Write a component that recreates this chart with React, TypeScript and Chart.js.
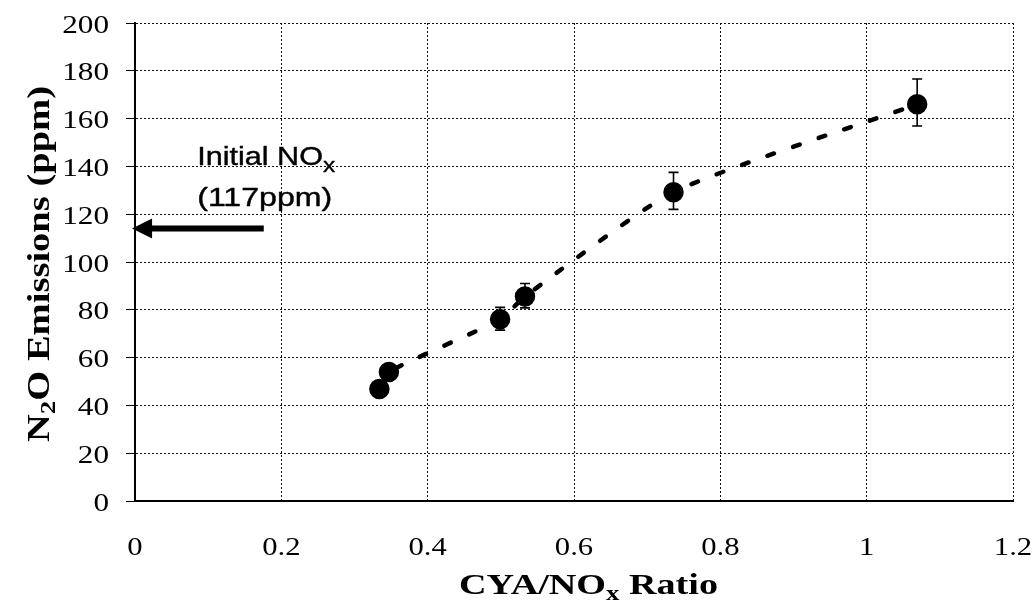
import React, { useEffect, useRef } from 'react';
import { Chart, registerables } from 'chart.js';

Chart.register(...registerables);

// ---- data ----
const X_VALUES = [0.334, 0.347, 0.499, 0.533, 0.736, 1.069];
const Y_VALUES = [46.9, 54.0, 76.0, 85.6, 129.2, 166.0];
const ERR_LOW = [45.0, 52.0, 71.5, 80.8, 122.0, 156.9];
const ERR_HIGH = [49.0, 56.0, 81.0, 91.0, 137.5, 176.6];

const X_TICKS = [0, 0.2, 0.4, 0.6, 0.8, 1, 1.2];
const X_TICK_LABELS = ['0', '0.2', '0.4', '0.6', '0.8', '1', '1.2'];
const Y_TICKS = [0, 20, 40, 60, 80, 100, 120, 140, 160, 180, 200];
const Y_TICK_LABELS = ['0', '20', '40', '60', '80', '100', '120', '140', '160', '180', '200'];

const X_TITLE = [{ t: 'CYA/NO' }, { t: 'x', sub: true }, { t: ' Ratio' }];
const Y_TITLE = [{ t: 'N' }, { t: '2', sub: true }, { t: 'O Emissions (ppm)' }];
const NOTE_LINE1 = [{ t: 'Initial NO' }, { t: 'x', sub: true }];
const NOTE_LINE2 = [{ t: '(117ppm)' }];

// annotation anchor values (data coordinates)
const NOTE_X = 0.085;
const NOTE_Y1 = 140.6;
const NOTE_Y2 = 123.4;
const ARROW_Y = 114;
const ARROW_FROM_X = 0.176;
const ARROW_TO_X = -0.004;

type Part = { t: string; sub?: boolean };
type RichOpts = {
  size: number;
  family: string;
  weight?: string;
  sx?: number;
  width?: number;
  align?: 'left' | 'center' | 'right';
  rotate?: boolean;
  subScale?: number;
  subDrop?: number;
  stroke?: number;
};

function drawRich(ctx: CanvasRenderingContext2D, parts: Part[], x: number, y: number, o: RichOpts) {
  const w = o.weight || 'normal';
  const subSize = o.size * (o.subScale ?? 0.65);
  const fontFor = (p: Part) => `${w} ${p.sub ? subSize : o.size}px ${o.family}`;
  let natural = 0;
  const widths = parts.map((p) => {
    ctx.font = fontFor(p);
    const m = ctx.measureText(p.t).width;
    natural += m;
    return m;
  });
  const sx = o.width ? o.width / natural : o.sx ?? 1;
  ctx.save();
  ctx.translate(x, y);
  if (o.rotate) ctx.rotate(-Math.PI / 2);
  ctx.scale(sx, 1);
  let cx = o.align === 'center' ? -natural / 2 : o.align === 'right' ? -natural : 0;
  ctx.textBaseline = 'alphabetic';
  ctx.textAlign = 'left';
  ctx.fillStyle = '#000';
  ctx.strokeStyle = '#000';
  ctx.lineJoin = 'round';
  parts.forEach((p, i) => {
    ctx.font = fontFor(p);
    const yy = p.sub ? o.size * (o.subDrop ?? 0.22) : 0;
    ctx.fillText(p.t, cx, yy);
    if (o.stroke) {
      ctx.lineWidth = o.stroke;
      ctx.strokeText(p.t, cx, yy);
    }
    cx += widths[i];
  });
  ctx.restore();
}

const errorBarPlugin = {
  id: 'errorBars',
  afterDatasetsDraw(chart: any) {
    const { ctx, scales } = chart;
    const xs = scales.x;
    const ys = scales.y;
    ctx.save();
    ctx.strokeStyle = '#000';
    ctx.lineWidth = 1.6;
    X_VALUES.forEach((xv, i) => {
      const px = xs.getPixelForValue(xv);
      const lo = ys.getPixelForValue(ERR_LOW[i]);
      const hi = ys.getPixelForValue(ERR_HIGH[i]);
      const cap = 5;
      ctx.beginPath();
      ctx.moveTo(px, lo);
      ctx.lineTo(px, hi);
      ctx.moveTo(px - cap, lo);
      ctx.lineTo(px + cap, lo);
      ctx.moveTo(px - cap, hi);
      ctx.lineTo(px + cap, hi);
      ctx.stroke();
    });
    ctx.restore();
  },
};

const textPlugin = {
  id: 'texts',
  afterDraw(chart: any) {
    const { ctx, scales, chartArea } = chart;
    const xs = scales.x;
    const ys = scales.y;
    const serif = '"Liberation Serif", "Times New Roman", serif';
    const sans = '"Liberation Sans", Arial, sans-serif';

    // y tick labels
    Y_TICKS.forEach((v, i) => {
      const py = ys.getPixelForValue(v);
      drawRich(ctx, [{ t: Y_TICK_LABELS[i] }], chartArea.left - 26, py + 9.5, {
        size: 26, family: serif, sx: 1.2, align: 'right',
      });
    });
    // x tick labels
    X_TICKS.forEach((v, i) => {
      const px = xs.getPixelForValue(v);
      drawRich(ctx, [{ t: X_TICK_LABELS[i] }], px, chartArea.bottom + 54, {
        size: 26, family: serif, sx: 1.18, align: 'center',
      });
    });
    // axis titles
    drawRich(ctx, X_TITLE, 459, 594, {
      size: 29, family: serif, weight: 'bold', width: 259, align: 'left', subScale: 0.7, subDrop: 0.2,
    });
    drawRich(ctx, Y_TITLE, 49, 264, {
      size: 31, family: serif, weight: 'bold', width: 356, align: 'center', rotate: true, subScale: 0.7, subDrop: 0.18,
    });

    // annotation text
    const nx = xs.getPixelForValue(NOTE_X);
    drawRich(ctx, NOTE_LINE1, nx, ys.getPixelForValue(NOTE_Y1), {
      size: 25, family: sans, width: 138, align: 'left', subScale: 0.8, subDrop: 0.3, stroke: 0.4,
    });
    drawRich(ctx, NOTE_LINE2, nx, ys.getPixelForValue(NOTE_Y2), {
      size: 25, family: sans, width: 135, align: 'left', stroke: 0.4,
    });

    // arrow
    const ay = ys.getPixelForValue(ARROW_Y);
    const ax0 = xs.getPixelForValue(ARROW_FROM_X);
    const ax1 = xs.getPixelForValue(ARROW_TO_X);
    const headLen = 20;
    const headHalf = 10;
    ctx.save();
    ctx.strokeStyle = '#000';
    ctx.fillStyle = '#000';
    ctx.lineWidth = 6;
    ctx.beginPath();
    ctx.moveTo(ax0, ay);
    ctx.lineTo(ax1 + headLen - 2, ay);
    ctx.stroke();
    ctx.beginPath();
    ctx.moveTo(ax1, ay);
    ctx.lineTo(ax1 + headLen, ay - headHalf);
    ctx.lineTo(ax1 + headLen, ay + headHalf);
    ctx.closePath();
    ctx.fill();
    ctx.restore();
  },
};

export default function App() {
  const ref = useRef<HTMLCanvasElement | null>(null);

  useEffect(() => {
    if (!ref.current) return;
    const chart = new Chart(ref.current, {
      type: 'scatter',
      data: {
        datasets: [
          {
            data: X_VALUES.map((x, i) => ({ x, y: Y_VALUES[i] })),
            showLine: true,
            borderColor: '#000',
            borderWidth: 4.5,
            borderDash: [7, 20],
            borderCapStyle: 'round',
            tension: 0.2,
            pointRadius: 8,
            pointHoverRadius: 8,
            pointStyle: 'circle',
            pointBackgroundColor: '#000',
            pointBorderColor: '#000',
            clip: false,
          } as any,
        ],
      },
      options: {
        responsive: false,
        animation: false,
        devicePixelRatio: 1,
        layout: { padding: { top: 23, right: 23, bottom: 0, left: 0 } },
        plugins: { legend: { display: false }, tooltip: { enabled: false } },
        events: [],
        scales: {
          x: {
            type: 'linear',
            min: 0,
            max: 1.2,
            ticks: { display: false, stepSize: 0.2 },
            grid: { color: '#111', lineWidth: 1, drawTicks: false },
            border: { display: true, color: '#000', width: 2, dash: [2, 2] },
            afterFit: (s: any) => {
              s.height = 108;
            },
          },
          y: {
            type: 'linear',
            min: 0,
            max: 200,
            ticks: { display: false, stepSize: 20 },
            grid: {
              color: '#111',
              lineWidth: 1,
              drawTicks: true,
              tickLength: 9,
              tickColor: '#000',
              tickWidth: 1,
              tickBorderDash: [],
            },
            border: { display: true, color: '#000', width: 2, dash: [2, 2] },
            afterFit: (s: any) => {
              s.width = 135;
            },
          },
        },
      } as any,
      plugins: [errorBarPlugin, textPlugin],
    });
    return () => chart.destroy();
  }, []);

  return (
    <div style={{ position: 'absolute', left: 0, top: 0, width: '1036px', height: '609px', overflow: 'hidden' }}>
      <canvas
        ref={ref}
        width={1036}
        height={609}
        style={{ display: 'block', width: '1036px', height: '609px' }}
      />
    </div>
  );
}
